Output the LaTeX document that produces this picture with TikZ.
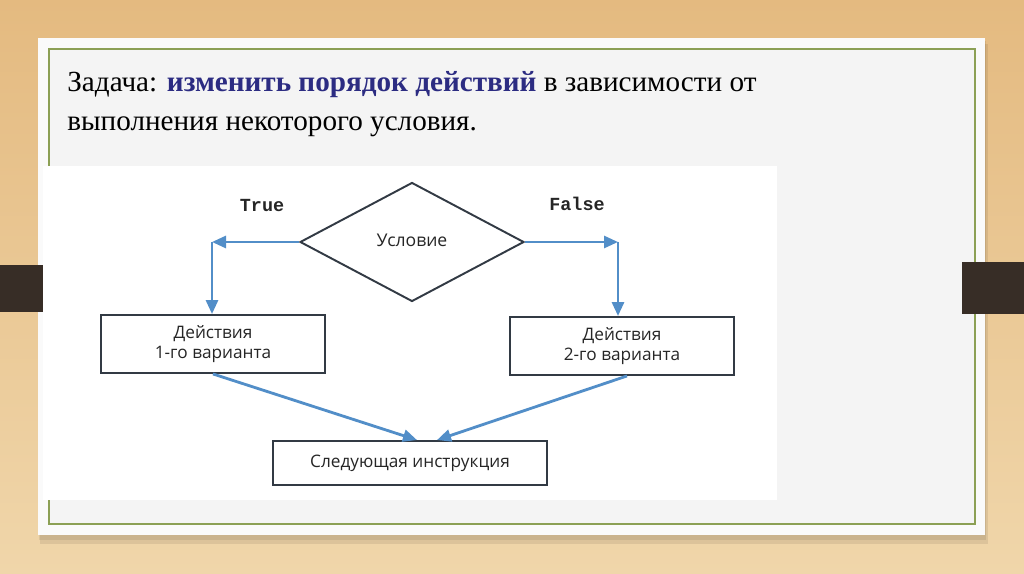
\documentclass[tikz,border=0pt]{standalone}
\usepackage{fontspec}
\setmainfont{Liberation Serif}
\newfontfamily\flowfont{Open Sans}
\newfontfamily\codefont{Liberation Mono}
\usetikzlibrary{positioning,arrows.meta,shapes.geometric}

\definecolor{woodtop}{RGB}{228,186,128}
\definecolor{woodbot}{RGB}{240,214,170}
\definecolor{barcol}{RGB}{55,45,38}
\definecolor{framegreen}{RGB}{140,160,85}
\definecolor{slidegray}{RGB}{244,244,244}
\definecolor{flowblue}{RGB}{82,142,200}
\definecolor{boxline}{RGB}{50,58,68}
\definecolor{titleblue}{RGB}{44,44,130}

\tikzset{
  actbox/.style={draw=boxline, line width=1.1pt, minimum width=4.48cm,
    minimum height=1.16cm, align=center, text=black!85,
    font=\flowfont\fontsize{9.8}{11.2}\selectfont},
  flowarrow/.style={draw=flowblue, line width=1.6pt,
    -{Triangle[length=2.8mm,width=2.4mm]}},
  branchlbl/.style={font=\codefont\bfseries\fontsize{10.5}{12}\selectfont, text=black!85}
}

\begin{document}
\begin{tikzpicture}[x=0.02cm, y=-0.02cm]
  \useasboundingbox (0,0) rectangle (1024,574);
  % background and slide
  \shade[top color=woodtop, bottom color=woodbot] (0,0) rectangle (1024,574);
  \fill[black, opacity=0.08] (40,44) rectangle (988,544);
  \fill[black, opacity=0.08] (39,41) rectangle (986,540);
  \fill[white!98!black] (38,38) rectangle (985,535);
  \fill[slidegray] (49,49) rectangle (975,524);
  \draw[framegreen, line width=0.9pt] (49,49) rectangle (975,524);
  \fill[white] (43,166) rectangle (777,500);
  \fill[barcol] (0,265) rectangle (43,312);
  \fill[barcol] (962,262) rectangle (1024,314);

  % title
  \node[anchor=base west, inner sep=0pt, font=\fontsize{16.6}{20}\selectfont] (title1) at (67,92)
    {Задача: \textcolor{titleblue}{\bfseries изменить порядок действий} в зависимости от};
  \node[anchor=base west, inner sep=0pt, font=\fontsize{16.6}{20}\selectfont] (title2) at (67,131)
    {выполнения некоторого условия.};

  % flowchart
  \node[diamond, draw=boxline, line width=1.1pt, aspect=1.88, minimum width=4.48cm,
    minimum height=2.38cm, inner sep=0pt, text=black!85,
    font=\flowfont\fontsize{10}{12}\selectfont] (cond) at (412,242) {\raisebox{2pt}{Условие}};
  \node[actbox] (act1) at (213,344) {Действия\\1-го варианта};
  \node[actbox] (act2) at (622,346) {Действия\\2-го варианта};
  \node[actbox, minimum width=5.48cm, minimum height=0.88cm] (next) at (410,463) {Следующая инструкция};
  \coordinate (tcorner) at (212,242);
  \coordinate (fcorner) at (618,242);
  \node[branchlbl] (tlbl) at (262,206) {True};
  \node[branchlbl] (flbl) at (577,204) {False};

  \draw[flowarrow] (cond.west) -- (tcorner);
  \draw[flowarrow] (tcorner) -- (tcorner |- act1.north);
  \draw[flowarrow] (cond.east) -- (fcorner);
  \draw[flowarrow] (fcorner) -- (fcorner |- act2.north);
  \draw[flowarrow] (act1.south) -- ([xshift=0.14cm]next.north);
  \draw[flowarrow] ([xshift=0.1cm]act2.south) -- ([xshift=0.54cm]next.north);
\end{tikzpicture}
\end{document}
